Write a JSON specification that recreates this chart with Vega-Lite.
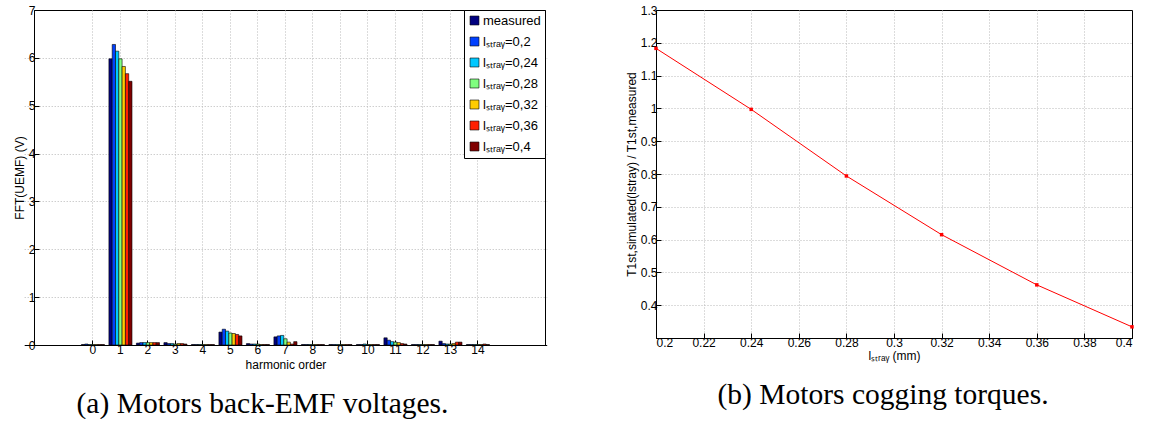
{
  "$schema": "https://vega.github.io/schema/vega-lite/v6.json",
  "padding": {"left": 12, "top": 3, "right": 0, "bottom": 0},
  "background": "white",
  "config": {
    "font": "Liberation Sans",
    "view": {"stroke": "black", "strokeWidth": 1},
    "axis": {
      "labelFont": "Liberation Sans", "labelFontSize": 12, "labelColor": "#000",
      "titleFont": "Liberation Sans", "titleFontSize": 12, "titleFontWeight": "normal", "titleColor": "#000",
      "domainColor": "#000", "tickColor": "#000", "gridColor": "#b8b8b8", "gridDash": [1, 2],
      "tickSize": -5, "labelPadding": 4
    }
  },
  "resolve": {"legend": {"color": "independent"}, "scale": {"color": "independent"}},
  "spacing": 67,
  "hconcat": [
    {
      "width": 511,
      "height": 335,
      "title": {"text": "(a) Motors back-EMF voltages.", "orient": "bottom", "font": "Liberation Serif", "fontSize": 29.5, "fontWeight": "normal", "color": "#000", "dx": -27, "offset": 20},
      "data": {"values": [
        {"harmonic": 0, "series": "measured", "value": 0.01}, {"harmonic": 0, "series": "0,2", "value": 0.02}, {"harmonic": 0, "series": "0,24", "value": 0.01}, {"harmonic": 0, "series": "0,28", "value": 0.01}, {"harmonic": 0, "series": "0,32", "value": 0.01}, {"harmonic": 0, "series": "0,36", "value": 0.01}, {"harmonic": 0, "series": "0,4", "value": 0.01},
        {"harmonic": 1, "series": "measured", "value": 5.98}, {"harmonic": 1, "series": "0,2", "value": 6.28}, {"harmonic": 1, "series": "0,24", "value": 6.14}, {"harmonic": 1, "series": "0,28", "value": 5.98}, {"harmonic": 1, "series": "0,32", "value": 5.82}, {"harmonic": 1, "series": "0,36", "value": 5.67}, {"harmonic": 1, "series": "0,4", "value": 5.51},
        {"harmonic": 2, "series": "measured", "value": 0.04}, {"harmonic": 2, "series": "0,2", "value": 0.05}, {"harmonic": 2, "series": "0,24", "value": 0.05}, {"harmonic": 2, "series": "0,28", "value": 0.05}, {"harmonic": 2, "series": "0,32", "value": 0.05}, {"harmonic": 2, "series": "0,36", "value": 0.05}, {"harmonic": 2, "series": "0,4", "value": 0.05},
        {"harmonic": 3, "series": "measured", "value": 0.05}, {"harmonic": 3, "series": "0,2", "value": 0.03}, {"harmonic": 3, "series": "0,24", "value": 0.03}, {"harmonic": 3, "series": "0,28", "value": 0.02}, {"harmonic": 3, "series": "0,32", "value": 0.03}, {"harmonic": 3, "series": "0,36", "value": 0.03}, {"harmonic": 3, "series": "0,4", "value": 0.02},
        {"harmonic": 4, "series": "measured", "value": 0.01}, {"harmonic": 4, "series": "0,2", "value": 0.01}, {"harmonic": 4, "series": "0,24", "value": 0.01}, {"harmonic": 4, "series": "0,28", "value": 0.01}, {"harmonic": 4, "series": "0,32", "value": 0.01}, {"harmonic": 4, "series": "0,36", "value": 0.01}, {"harmonic": 4, "series": "0,4", "value": 0.01},
        {"harmonic": 5, "series": "measured", "value": 0.27}, {"harmonic": 5, "series": "0,2", "value": 0.33}, {"harmonic": 5, "series": "0,24", "value": 0.29}, {"harmonic": 5, "series": "0,28", "value": 0.25}, {"harmonic": 5, "series": "0,32", "value": 0.24}, {"harmonic": 5, "series": "0,36", "value": 0.22}, {"harmonic": 5, "series": "0,4", "value": 0.19},
        {"harmonic": 6, "series": "measured", "value": 0.03}, {"harmonic": 6, "series": "0,2", "value": 0.02}, {"harmonic": 6, "series": "0,24", "value": 0.02}, {"harmonic": 6, "series": "0,28", "value": 0.02}, {"harmonic": 6, "series": "0,32", "value": 0.01}, {"harmonic": 6, "series": "0,36", "value": 0.01}, {"harmonic": 6, "series": "0,4", "value": 0.01},
        {"harmonic": 7, "series": "measured", "value": 0.17}, {"harmonic": 7, "series": "0,2", "value": 0.19}, {"harmonic": 7, "series": "0,24", "value": 0.2}, {"harmonic": 7, "series": "0,28", "value": 0.13}, {"harmonic": 7, "series": "0,32", "value": 0.06}, {"harmonic": 7, "series": "0,36", "value": 0.02}, {"harmonic": 7, "series": "0,4", "value": 0.07},
        {"harmonic": 8, "series": "measured", "value": 0.01}, {"harmonic": 8, "series": "0,2", "value": 0.01}, {"harmonic": 8, "series": "0,24", "value": 0.01}, {"harmonic": 8, "series": "0,28", "value": 0.01}, {"harmonic": 8, "series": "0,32", "value": 0.01}, {"harmonic": 8, "series": "0,36", "value": 0.01}, {"harmonic": 8, "series": "0,4", "value": 0.01},
        {"harmonic": 9, "series": "measured", "value": 0.01}, {"harmonic": 9, "series": "0,2", "value": 0.01}, {"harmonic": 9, "series": "0,24", "value": 0.01}, {"harmonic": 9, "series": "0,28", "value": 0.01}, {"harmonic": 9, "series": "0,32", "value": 0.01}, {"harmonic": 9, "series": "0,36", "value": 0.01}, {"harmonic": 9, "series": "0,4", "value": 0.01},
        {"harmonic": 10, "series": "measured", "value": 0.01}, {"harmonic": 10, "series": "0,2", "value": 0.01}, {"harmonic": 10, "series": "0,24", "value": 0.02}, {"harmonic": 10, "series": "0,28", "value": 0.01}, {"harmonic": 10, "series": "0,32", "value": 0.01}, {"harmonic": 10, "series": "0,36", "value": 0.01}, {"harmonic": 10, "series": "0,4", "value": 0.01},
        {"harmonic": 11, "series": "measured", "value": 0.15}, {"harmonic": 11, "series": "0,2", "value": 0.1}, {"harmonic": 11, "series": "0,24", "value": 0.07}, {"harmonic": 11, "series": "0,28", "value": 0.06}, {"harmonic": 11, "series": "0,32", "value": 0.05}, {"harmonic": 11, "series": "0,36", "value": 0.03}, {"harmonic": 11, "series": "0,4", "value": 0.02},
        {"harmonic": 12, "series": "measured", "value": 0.01}, {"harmonic": 12, "series": "0,2", "value": 0.01}, {"harmonic": 12, "series": "0,24", "value": 0.01}, {"harmonic": 12, "series": "0,28", "value": 0.01}, {"harmonic": 12, "series": "0,32", "value": 0.01}, {"harmonic": 12, "series": "0,36", "value": 0.01}, {"harmonic": 12, "series": "0,4", "value": 0.01},
        {"harmonic": 13, "series": "measured", "value": 0.08}, {"harmonic": 13, "series": "0,2", "value": 0.03}, {"harmonic": 13, "series": "0,24", "value": 0.02}, {"harmonic": 13, "series": "0,28", "value": 0.02}, {"harmonic": 13, "series": "0,32", "value": 0.03}, {"harmonic": 13, "series": "0,36", "value": 0.06}, {"harmonic": 13, "series": "0,4", "value": 0.06},
        {"harmonic": 14, "series": "measured", "value": 0.01}, {"harmonic": 14, "series": "0,2", "value": 0.01}, {"harmonic": 14, "series": "0,24", "value": 0.01}, {"harmonic": 14, "series": "0,28", "value": 0.01}, {"harmonic": 14, "series": "0,32", "value": 0.01}, {"harmonic": 14, "series": "0,36", "value": 0.02}, {"harmonic": 14, "series": "0,4", "value": 0.01}
      ]},
      "mark": {"type": "bar", "stroke": "black", "strokeWidth": 0.6},
      "encoding": {
        "x": {
          "field": "harmonic", "type": "ordinal",
          "scale": {"domain": [-2, -1, 0, 1, 2, 3, 4, 5, 6, 7, 8, 9, 10, 11, 12, 13, 14, 15, 16], "range": [-9.8, 512.7], "paddingInner": 0, "paddingOuter": 0},
          "axis": {"values": [0, 1, 2, 3, 4, 5, 6, 7, 8, 9, 10, 11, 12, 13, 14], "labelAngle": 0, "title": "harmonic order", "grid": true, "bandPosition": 0.5, "titlePadding": 4}
        },
        "xOffset": {"field": "series", "type": "nominal", "scale": {"domain": ["measured", "0,2", "0,24", "0,28", "0,32", "0,36", "0,4"], "paddingOuter": 0.67, "paddingInner": 0}},
        "y": {
          "field": "value", "type": "quantitative",
          "scale": {"domain": [0, 7], "nice": false},
          "axis": {"values": [0, 1, 2, 3, 4, 5, 6, 7], "title": "FFT(UEMF) (V)", "grid": true, "titlePadding": 2,
            "gridOpacity": {"condition": {"test": "datum.value >= 7 || datum.value <= 0", "value": 0}, "value": 1}}
        },
        "color": {
          "field": "series", "type": "nominal",
          "scale": {"domain": ["measured", "0,2", "0,24", "0,28", "0,32", "0,36", "0,4"], "range": ["#000080", "#0040ff", "#00c8ff", "#80ff80", "#ffcc00", "#ff2000", "#800000"]},
          "legend": {
            "title": null, "orient": "top-right", "offset": 0, "padding": 4,
            "strokeColor": "black", "fillColor": "white",
            "symbolType": "square", "symbolSize": 80, "symbolStrokeColor": "black", "symbolStrokeWidth": 0.6, "symbolOpacity": 1,
            "labelFont": "Liberation Sans", "labelFontSize": 13, "labelColor": "#000", "rowPadding": 7, "labelOffset": 2,
            "labelExpr": "datum.label == 'measured' ? 'measured' : 'lₛₜᵣₐᵧ=' + datum.label"
          }
        }
      }
    },
    {
      "width": 476,
      "height": 328,
      "title": {"text": "(b) Motors cogging torques.", "orient": "bottom", "font": "Liberation Serif", "fontSize": 29.5, "fontWeight": "normal", "color": "#000", "dx": -11, "offset": 20},
      "data": {"values": [
        {"l": 0.2, "ratio": 1.183},
        {"l": 0.24, "ratio": 0.997},
        {"l": 0.28, "ratio": 0.794},
        {"l": 0.32, "ratio": 0.615},
        {"l": 0.36, "ratio": 0.462},
        {"l": 0.4, "ratio": 0.334}
      ]},
      "mark": {"type": "line", "color": "#ff0000", "strokeWidth": 1, "point": {"filled": true, "size": 12, "color": "#ff0000", "shape": "square"}},
      "encoding": {
        "x": {
          "field": "l", "type": "quantitative",
          "scale": {"domain": [0.2, 0.4], "nice": false, "zero": false},
          "axis": {"values": [0.2, 0.22, 0.24, 0.26, 0.28, 0.3, 0.32, 0.34, 0.36, 0.38, 0.4], "format": "~g", "title": "lₛₜᵣₐᵧ (mm)", "grid": true, "titlePadding": 2,
            "gridOpacity": {"condition": {"test": "datum.value <= 0.2 || datum.value >= 0.4", "value": 0}, "value": 1}}
        },
        "y": {
          "field": "ratio", "type": "quantitative",
          "scale": {"domain": [0.3, 1.3], "nice": false, "zero": false},
          "axis": {"values": [0.4, 0.5, 0.6, 0.7, 0.8, 0.9, 1, 1.1, 1.2, 1.3], "format": "~g", "title": "T1st,simulated(lstray) / T1st,measured", "grid": true, "titlePadding": 2,
            "gridOpacity": {"condition": {"test": "datum.value >= 1.3", "value": 0}, "value": 1}}
        }
      }
    }
  ]
}
